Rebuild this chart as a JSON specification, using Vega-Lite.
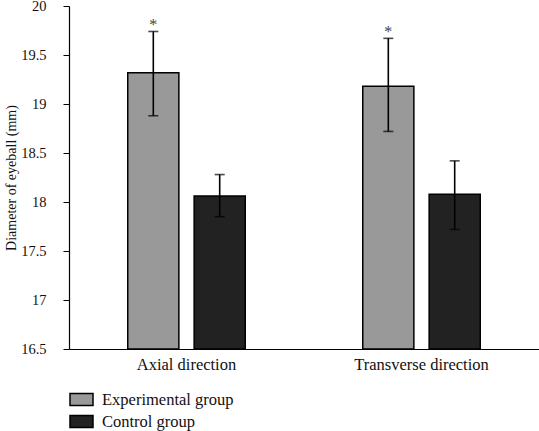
{
  "$schema": "https://vega.github.io/schema/vega-lite/v6.json",
  "width": 470,
  "height": 343,
  "autosize": {"type": "none"},
  "padding": {"left": 69, "top": 6, "right": 0, "bottom": 82},
  "background": "white",
  "config": {
    "font": "Liberation Serif",
    "view": {"stroke": null},
    "axis": {"grid": false, "domainColor": "black", "tickColor": "black", "labelColor": "#111", "titleColor": "#111", "labelFont": "Liberation Serif", "titleFont": "Liberation Serif"}
  },
  "data": {
    "values": [
      {"direction": "Axial direction", "group": "Experimental group", "mean": 19.32, "lower": 18.88, "upper": 19.74, "sig": "*"},
      {"direction": "Axial direction", "group": "Control group", "mean": 18.06, "lower": 17.85, "upper": 18.28, "sig": ""},
      {"direction": "Transverse direction", "group": "Experimental group", "mean": 19.18, "lower": 18.72, "upper": 19.67, "sig": "*"},
      {"direction": "Transverse direction", "group": "Control group", "mean": 18.08, "lower": 17.72, "upper": 18.42, "sig": ""}
    ]
  },
  "encoding": {
    "x": {
      "field": "direction", "type": "nominal", "sort": ["Axial direction", "Transverse direction"],
      "scale": {"paddingInner": 0.5, "paddingOuter": 0.25},
      "axis": {"title": null, "labelAngle": 0, "ticks": false, "labelFontSize": 16.5, "labelPadding": 7, "domainWidth": 1.2}
    },
    "xOffset": {
      "field": "group", "type": "nominal", "sort": ["Experimental group", "Control group"],
      "scale": {"paddingInner": 0.23, "paddingOuter": 0}
    }
  },
  "layer": [
    {
      "mark": {"type": "bar", "stroke": "black", "strokeWidth": 1.5},
      "encoding": {
        "y": {
          "field": "mean", "type": "quantitative",
          "scale": {"domain": [16.5, 20], "nice": false, "zero": false},
          "axis": {"title": "Diameter of eyeball (mm)", "values": [16.5, 17, 17.5, 18, 18.5, 19, 19.5, 20], "format": "~g", "labelFontSize": 14.5, "titleFontSize": 14, "titleFontWeight": "normal", "tickSize": 6, "labelPadding": 17, "titlePadding": 2, "domainWidth": 1.2}
        },
        "y2": {"datum": 16.5},
        "fill": {
          "field": "group", "type": "nominal", "sort": ["Experimental group", "Control group"],
          "scale": {"domain": ["Experimental group", "Control group"], "range": ["#999999", "#222222"]},
          "legend": {
            "title": null, "orient": "none", "legendX": 0, "legendY": 381,
            "symbolType": "M-1,-0.52H1V0.52H-1Z", "symbolSize": 529,
            "symbolStrokeColor": "black", "symbolStrokeWidth": 1.5,
            "labelFontSize": 16.5, "labelColor": "#111", "labelFont": "Liberation Serif",
            "rowPadding": 0, "labelOffset": 8
          }
        }
      }
    },
    {
      "mark": {"type": "rule", "color": "black", "strokeWidth": 1.6},
      "encoding": {
        "y": {"field": "lower", "type": "quantitative"},
        "y2": {"field": "upper"}
      }
    },
    {
      "mark": {"type": "tick", "color": "black", "thickness": 1.6, "size": 10, "orient": "horizontal"},
      "encoding": {"y": {"field": "lower", "type": "quantitative"}}
    },
    {
      "mark": {"type": "tick", "color": "black", "thickness": 1.6, "size": 10, "orient": "horizontal"},
      "encoding": {"y": {"field": "upper", "type": "quantitative"}}
    },
    {
      "mark": {"type": "text", "baseline": "bottom", "dy": 2, "fontSize": 16, "color": "#444", "font": "Liberation Serif"},
      "encoding": {
        "y": {"field": "upper", "type": "quantitative"},
        "text": {"field": "sig"}
      }
    }
  ]
}
